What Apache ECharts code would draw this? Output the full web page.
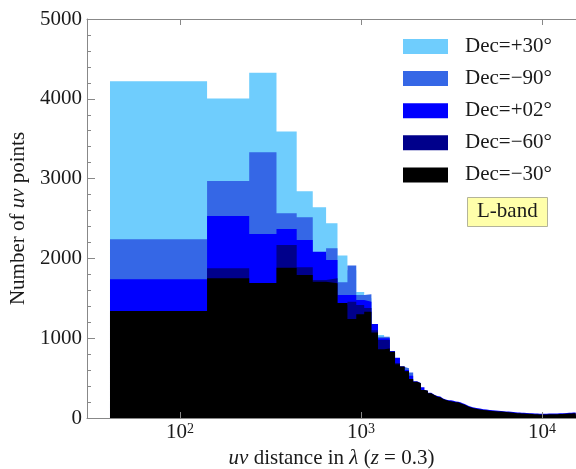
<!DOCTYPE html>
<html>
<head>
<meta charset="utf-8">
<script src="https://cdn.jsdelivr.net/npm/echarts@6/dist/echarts.min.js"></script>
<style>
  html, body { margin: 0; padding: 0; background: #fff; }
  #uvChart { width: 576px; height: 469px; }
</style>
</head>
<body>
<div id="uvChart"></div>
<script>
// histogram bins: linear in uv distance, 100 lambda wide, starting at 41
var BIN_START = 41;
var BIN_WIDTH = 100;

var seriesNames = ['Dec=+30°', 'Dec=\u221290°', 'Dec=+02°', 'Dec=\u221260°', 'Dec=\u221230°'];
var seriesColors = ['#6fcdfd', '#3567e6', '#0000ff', '#00008b', '#000000'];

// counts per bin
var decP30 = [4220, 4005, 4325, 3590, 2840, 2640, 2440, 2035, 1850, 1580,
  1500, 1150, 1040, 1000, 800, 660, 610, 560, 470, 430,
  410, 340, 320, 290, 270, 250, 240, 220, 210, 200];

var decM90 = [2240, 2970, 3330, 2565, 2515, 2050, 2126, 1700, 1910, 1540,
  1550, 1150, 1019, 1019, 820, 690, 640, 622, 570, 440,
  420, 350, 330, 300, 280, 262, 255, 232, 220, 212];

var decP02 = [1740, 2530, 2305, 2368, 2230, 2084, 1980, 1541, 1541, 1480,
  1458, 1178, 1000, 1000, 840, 755, 650, 600, 530, 460,
  440, 384, 345, 315, 292, 275, 270, 245, 232, 222,
  222, 215, 208, 205, 196, 186, 175, 162, 150, 141,
  136, 130, 126, 122, 118, 114, 110, 107, 105, 103,
  101, 99, 97, 95, 94, 92, 91, 90, 89, 87,
  86, 84, 83, 81, 80, 79, 77, 75, 74, 73,
  72, 71, 70, 69, 68, 67, 66, 66, 65, 64,
  63, 63, 62, 61, 61, 60, 59, 59, 58, 58,
  57, 57, 56, 56, 55, 55, 54, 54, 54, 53,
  53, 53, 53, 53, 54, 54, 54, 54, 55, 55,
  55, 55, 55, 56, 56, 56, 56, 57, 57, 57,
  57, 57, 58, 58, 58, 59, 59, 59, 60, 60,
  61, 61, 61, 62, 62, 63, 63, 63, 64, 64,
  65, 65, 65, 66, 66, 67, 67, 67, 68, 68,
  69, 69, 69, 70];

var decM60 = [1320, 1876, 1650, 2168, 1888, 1729, 1750, 1420, 1458, 1416,
  1378, 1100, 977, 977, 820, 690, 640, 590, 480, 450,
  430, 350, 335, 305, 285, 262, 255, 235, 222, 215];

var decM30 = [1340, 1750, 1692, 1883, 1792, 1708, 1688, 1440, 1240, 1300,
  1332, 1070, 860, 870, 830, 675, 645, 587, 490, 455,
  434, 351, 340, 309, 288, 267, 259, 238, 225, 217,
  210, 205, 198, 196, 186, 176, 165, 152, 142, 132,
  126, 120, 116, 112, 108, 104, 101, 98, 96, 94,
  92, 90, 88, 86, 85, 83, 82, 81, 80, 78,
  77, 75, 74, 72, 71, 70, 68, 66, 65, 64,
  63, 62, 61, 60, 59, 58, 57, 57, 56, 55,
  54, 54, 53, 52, 52, 51, 50, 50, 49, 49,
  48, 48, 47, 47, 46, 46, 45, 45, 45, 44,
  44, 44, 44, 44, 45, 45, 45, 45, 46, 46,
  46, 46, 46, 47, 47, 47, 47, 48, 48, 48,
  48, 48, 49, 49, 49, 50, 50, 50, 51, 51,
  52, 52, 52, 53, 53, 54, 54, 54, 55, 55,
  56, 56, 56, 57, 57, 58, 58, 58, 59, 59,
  60, 60, 60, 61];

var allCounts = [decP30, decM90, decP02, decM60, decM30];

var X_MIN = 30.6;
var X_MAX = 15410;
var SERIF = 'Liberation Serif';

// turn bin counts into step outline points [x, y]
function toSteps(counts) {
  var pts = [];
  counts.forEach(function (c, i) {
    var x0 = BIN_START + i * BIN_WIDTH;
    pts.push([x0, c], [x0 + BIN_WIDTH, c]);
  });
  return pts;
}

function powerLabel(v) {
  var e = Math.round(Math.log10(v));
  if (Math.abs(Math.log10(v) - e) > 1e-6) return '';
  return '{b|10}{s|' + e + '}';
}

var chart = echarts.init(document.getElementById('uvChart'));

var option = {
  animation: false,
  textStyle: { fontFamily: SERIF },
  grid: { left: 87, right: 0, top: 19, bottom: 51, outerBoundsMode: 'none', containLabel: false },
  title: {
    text: 'L-band',
    left: 467,
    top: 197,
    padding: [4, 10, 5, 10],
    backgroundColor: '#ffffaa',
    borderColor: '#b4b49a',
    borderWidth: 1,
    textStyle: { fontFamily: SERIF, fontSize: 21, lineHeight: 21, fontWeight: 'normal', color: '#1a1a1a' }
  },
  legend: {
    orient: 'vertical',
    left: 403,
    top: 36,
    padding: 0,
    icon: 'rect',
    itemWidth: 45,
    itemHeight: 15,
    itemGap: 11.1,
    data: seriesNames,
    textStyle: { fontFamily: SERIF, fontSize: 21, color: '#1a1a1a', padding: [0, 0, 0, 12] }
  },
  xAxis: [{
    type: 'log',
    logBase: 10,
    min: X_MIN,
    max: X_MAX,
    z: 10,
    name: '{i|uv} distance in {i|\u03bb} ({i|z} = 0.3)',
    nameLocation: 'middle',
    nameGap: 29,
    nameTextStyle: {
      fontFamily: SERIF, fontSize: 21, color: '#1a1a1a',
      rich: { i: { fontFamily: SERIF, fontSize: 21, fontStyle: 'italic', color: '#1a1a1a' } }
    },
    axisLine: { show: true, lineStyle: { color: '#888', width: 1 } },
    axisTick: { show: true, inside: true, length: 6, lineStyle: { color: '#888' } },
    splitLine: { show: false },
    axisLabel: {
      margin: 4,
      showMinLabel: false,
      showMaxLabel: false,
      formatter: powerLabel,
      rich: {
        b: { fontFamily: SERIF, fontSize: 21, color: '#1a1a1a' },
        s: { fontFamily: SERIF, fontSize: 14, color: '#1a1a1a', verticalAlign: 'top' }
      }
    }
  }, {
    type: 'log',
    logBase: 10,
    position: 'top',
    min: X_MIN,
    max: X_MAX,
    z: 10,
    axisLine: { show: true, lineStyle: { color: '#888', width: 1 } },
    axisTick: { show: true, inside: true, length: 6, lineStyle: { color: '#888' } },
    axisLabel: { show: false },
    splitLine: { show: false }
  }],
  yAxis: {
    type: 'value',
    min: 0,
    max: 5000,
    interval: 1000,
    z: 10,
    name: 'Number of {i|uv} points',
    nameLocation: 'middle',
    nameGap: 53,
    nameTextStyle: {
      fontFamily: SERIF, fontSize: 21, color: '#1a1a1a',
      rich: { i: { fontFamily: SERIF, fontSize: 21, fontStyle: 'italic', color: '#1a1a1a' } }
    },
    axisLine: { show: true, lineStyle: { color: '#888', width: 1 } },
    axisTick: { show: true, inside: true, length: 8, lineStyle: { color: '#888' } },
    minorTick: { show: true, splitNumber: 5, length: 4, lineStyle: { color: '#888' } },
    splitLine: { show: false },
    axisLabel: {
      margin: 5, fontFamily: SERIF, fontSize: 21, color: '#1a1a1a',
      formatter: function (v) { return String(v); }
    }
  },
  series: allCounts.map(function (counts, k) {
    return {
      name: seriesNames[k],
      type: 'line',
      color: seriesColors[k],
      data: toSteps(counts),
      showSymbol: false,
      symbol: 'none',
      lineStyle: { width: 0 },
      areaStyle: { color: seriesColors[k], opacity: 1 },
      z: 2 + k
    };
  })
};

chart.setOption(option);
</script>
</body>
</html>
